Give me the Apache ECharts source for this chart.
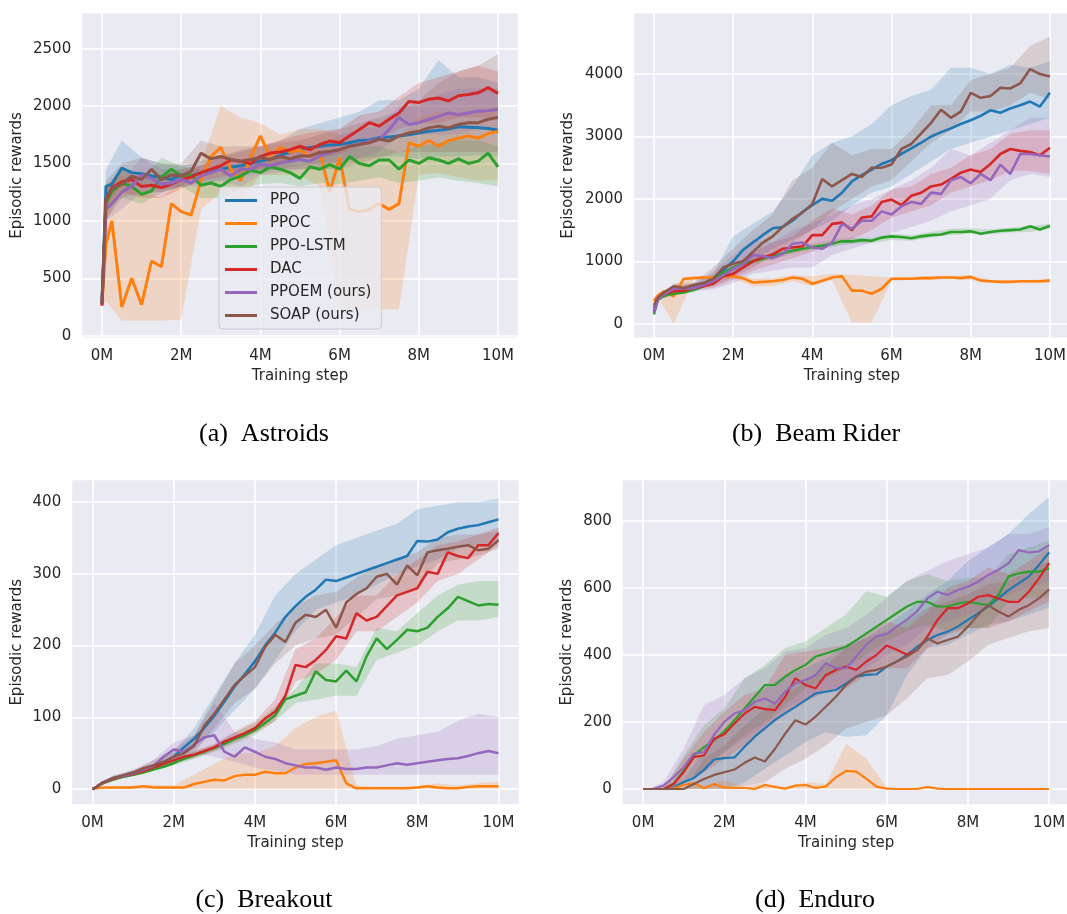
<!DOCTYPE html>
<html>
<head>
<meta charset="utf-8">
<title>Episodic rewards</title>
<script src="https://cdn.jsdelivr.net/npm/echarts@6.0.0/dist/echarts.min.js"></script>
<style>
  html, body { margin: 0; padding: 0; background: #fff; }
  #chart { width: 1067px; height: 914px; }
</style>
</head>
<body>
<div id="chart"></div>
<script>
// training steps (millions) for the mean curves and for the shaded bands
const steps = [0, 0.1, 0.25, 0.5, 0.75, 1, 1.25, 1.5, 1.75, 2, 2.25, 2.5, 2.75, 3, 3.25, 3.5, 3.75, 4, 4.25, 4.5, 4.75, 5,
  5.25, 5.5, 5.75, 6, 6.25, 6.5, 6.75, 7, 7.25, 7.5, 7.75, 8, 8.25, 8.5, 8.75, 9, 9.25, 9.5, 9.75, 10];
const bandSteps = [0, 0.1, 0.5, 1, 1.5, 2, 2.5, 3, 3.5, 4, 4.5, 5, 5.5, 6, 6.5, 7, 7.5, 8, 8.5, 9, 9.5, 10];
const xTicks = [0, 2, 4, 6, 8, 10];

const methods = ['PPO', 'PPOC', 'PPO-LSTM', 'DAC', 'PPOEM (ours)', 'SOAP (ours)'];

// (a) Astroids
const astTicks = [0, 500, 1000, 1500, 2000, 2500];
const astPPO = [280, 1300, 1320, 1460, 1420, 1410, 1390, 1380, 1360, 1400, 1390, 1420, 1440, 1450, 1470, 1480, 1500, 1520, 1540, 1570, 1600, 1625, 1640, 1650, 1660, 1665, 1680, 1700, 1705, 1725, 1730, 1740, 1750, 1765, 1780, 1790, 1800, 1820, 1815, 1810, 1805, 1790];
const astPPOC = [280, 800, 1000, 250, 500, 270, 650, 600, 1150, 1080, 1050, 1350, 1560, 1640, 1450, 1350, 1550, 1740, 1560, 1640, 1600, 1620, 1560, 1600, 1250, 1550, 1100, 1080, 1100, 1150, 1100, 1150, 1680, 1650, 1700, 1650, 1700, 1720, 1740, 1720, 1760, 1780];
const astLSTM = [280, 1150, 1260, 1330, 1300, 1230, 1260, 1380, 1450, 1390, 1400, 1310, 1330, 1300, 1360, 1390, 1440, 1420, 1470, 1450, 1420, 1370, 1470, 1450, 1490, 1450, 1560, 1500, 1480, 1530, 1530, 1450, 1530, 1500, 1550, 1530, 1500, 1540, 1500, 1520, 1590, 1470];
const astDAC = [260, 1180, 1290, 1340, 1360, 1300, 1310, 1290, 1320, 1360, 1380, 1420, 1450, 1480, 1530, 1520, 1500, 1560, 1590, 1600, 1620, 1650, 1620, 1665, 1695, 1680, 1740, 1795, 1855, 1825, 1885, 1940, 2040, 2030, 2060, 2070, 2045, 2090, 2100, 2115, 2160, 2110];
const astPPOEM = [300, 1100, 1150, 1250, 1300, 1400, 1370, 1320, 1330, 1360, 1330, 1390, 1420, 1450, 1390, 1450, 1450, 1490, 1480, 1505, 1520, 1535, 1520, 1565, 1595, 1620, 1650, 1665, 1695, 1710, 1795, 1900, 1840, 1855, 1885, 1910, 1940, 1925, 1940, 1955, 1960, 1970];
const astSOAP = [280, 1200, 1280, 1320, 1390, 1360, 1450, 1360, 1400, 1390, 1430, 1590, 1540, 1560, 1535, 1520, 1535, 1550, 1535, 1560, 1540, 1565, 1565, 1595, 1605, 1620, 1650, 1665, 1680, 1710, 1695, 1740, 1765, 1780, 1810, 1825, 1810, 1840, 1855, 1855, 1885, 1900];
const astPPOLo = [250, 1150, 1300, 1300, 1280, 1300, 1330, 1350, 1380, 1420, 1450, 1480, 1500, 1520, 1540, 1560, 1560, 1540, 1560, 1560, 1570, 1560];
const astPPOHi = [310, 1450, 1700, 1550, 1500, 1480, 1520, 1560, 1620, 1650, 1700, 1800, 1850, 1900, 1950, 2050, 2050, 2150, 2400, 2250, 2250, 2200];
const astPPOCLo = [250, 300, 130, 130, 130, 140, 1100, 1250, 1150, 1400, 1400, 1400, 1300, 240, 230, 230, 230, 1400, 1420, 1380, 1350, 1360];
const astPPOCHi = [310, 1300, 1400, 1250, 1200, 1350, 1500, 2000, 1900, 1850, 1750, 1800, 1800, 1750, 1700, 1700, 1750, 1900, 1950, 1950, 1950, 2000];
const astLSTMLo = [250, 1000, 1200, 1150, 1250, 1300, 1200, 1200, 1280, 1320, 1330, 1300, 1330, 1320, 1350, 1380, 1330, 1350, 1380, 1350, 1330, 1300];
const astLSTMHi = [310, 1300, 1450, 1350, 1550, 1480, 1450, 1450, 1500, 1520, 1550, 1500, 1580, 1600, 1650, 1650, 1600, 1650, 1680, 1700, 1700, 1650];
const astDACLo = [230, 1000, 1250, 1200, 1200, 1280, 1350, 1380, 1400, 1450, 1480, 1550, 1550, 1580, 1650, 1700, 1800, 1850, 1850, 1900, 1900, 1900];
const astDACHi = [290, 1300, 1450, 1400, 1400, 1450, 1480, 1560, 1600, 1650, 1700, 1750, 1780, 1800, 1920, 1950, 2080, 2200, 2250, 2300, 2350, 2300];
const astPPOEMLo = [270, 1000, 1100, 1250, 1250, 1300, 1300, 1350, 1300, 1400, 1420, 1450, 1480, 1500, 1550, 1600, 1750, 1750, 1750, 1750, 1800, 1800];
const astPPOEMHi = [330, 1250, 1350, 1550, 1450, 1450, 1480, 1550, 1500, 1580, 1600, 1620, 1650, 1750, 1800, 1820, 2000, 2000, 2100, 2150, 2150, 2150];
const astSOAPLo = [250, 1100, 1200, 1250, 1250, 1300, 1450, 1450, 1400, 1450, 1450, 1450, 1450, 1450, 1500, 1550, 1600, 1600, 1600, 1600, 1600, 1600];
const astSOAPHi = [310, 1350, 1500, 1550, 1500, 1500, 1700, 1650, 1650, 1650, 1680, 1700, 1750, 1800, 1850, 1900, 1950, 2050, 2200, 2300, 2350, 2450];

// (b) Beam Rider
const beamTicks = [0, 1000, 2000, 3000, 4000];
const beamPPO = [250, 400, 480, 530, 560, 600, 640, 730, 860, 1000, 1180, 1300, 1420, 1530, 1550, 1650, 1790, 1900, 2000, 1970, 2100, 2280, 2380, 2470, 2560, 2620, 2720, 2810, 2900, 3000, 3070, 3130, 3200, 3260, 3330, 3420, 3380, 3450, 3500, 3560, 3480, 3700];
const beamPPOC = [370, 450, 520, 440, 720, 730, 740, 740, 760, 760, 730, 660, 670, 680, 700, 740, 720, 640, 690, 740, 760, 530, 530, 480, 560, 720, 720, 720, 730, 730, 740, 740, 730, 750, 690, 680, 670, 670, 680, 680, 680, 690];
const beamLSTM = [150, 380, 450, 480, 500, 540, 600, 700, 820, 900, 960, 1000, 1040, 1080, 1130, 1170, 1200, 1230, 1250, 1280, 1320, 1320, 1340, 1330, 1380, 1400, 1390, 1370, 1400, 1420, 1430, 1470, 1470, 1480, 1440, 1470, 1490, 1500, 1510, 1560, 1510, 1570];
const beamDAC = [200, 390, 470, 520, 530, 570, 600, 640, 760, 800, 900, 1000, 1060, 1110, 1200, 1220, 1240, 1420, 1420, 1600, 1620, 1500, 1700, 1720, 1950, 1990, 1900, 2050, 2100, 2200, 2230, 2320, 2420, 2470, 2430, 2560, 2720, 2800, 2770, 2750, 2700, 2820];
const beamPPOEM = [180, 380, 470, 560, 560, 570, 620, 680, 780, 880, 950, 1100, 1080, 1050, 1120, 1280, 1300, 1220, 1200, 1300, 1600, 1520, 1650, 1650, 1800, 1750, 1880, 1950, 1920, 2100, 2080, 2300, 2350, 2250, 2400, 2300, 2550, 2400, 2720, 2720, 2700, 2680];
const beamSOAP = [300, 420, 500, 600, 570, 620, 650, 720, 900, 960, 1000, 1150, 1300, 1400, 1550, 1680, 1780, 1920, 2320, 2200, 2300, 2400, 2350, 2500, 2500, 2550, 2800, 2880, 3050, 3220, 3430, 3300, 3400, 3700, 3620, 3650, 3780, 3770, 3850, 4080, 4000, 3960];
const beamPPOLo = [240, 380, 480, 550, 650, 800, 1000, 1200, 1350, 1500, 1650, 1900, 2100, 2200, 2400, 2600, 2800, 2900, 3000, 3100, 3200, 3300];
const beamPPOHi = [260, 420, 580, 650, 800, 1400, 1600, 1800, 2200, 2700, 2900, 3000, 3200, 3500, 3650, 3750, 4100, 4100, 4000, 4150, 4100, 4200];
const beamPPOCLo = [350, 420, 0, 700, 700, 720, 600, 600, 680, 600, 700, 20, 20, 690, 700, 700, 720, 700, 650, 650, 650, 660];
const beamPPOCHi = [390, 480, 620, 760, 770, 800, 720, 730, 780, 760, 800, 780, 760, 740, 750, 770, 770, 780, 700, 700, 700, 720];
const beamLSTMLo = [140, 370, 460, 510, 650, 850, 950, 1030, 1120, 1180, 1230, 1280, 1290, 1340, 1330, 1380, 1420, 1440, 1430, 1460, 1470, 1520];
const beamLSTMHi = [160, 400, 520, 580, 760, 980, 1050, 1130, 1220, 1280, 1340, 1380, 1370, 1440, 1420, 1470, 1520, 1530, 1510, 1540, 1560, 1600];
const beamDACLo = [190, 370, 480, 530, 580, 700, 850, 950, 1050, 1150, 1300, 1350, 1500, 1700, 1800, 1900, 2100, 2200, 2300, 2450, 2450, 2400];
const beamDACHi = [210, 410, 560, 620, 720, 900, 1150, 1300, 1400, 1650, 1850, 1750, 1900, 2150, 2200, 2400, 2500, 2700, 2800, 3050, 3100, 3100];
const beamPPOEMLo = [170, 370, 500, 520, 550, 650, 800, 850, 900, 900, 1100, 1200, 1300, 1450, 1550, 1650, 1800, 1900, 2000, 2300, 2400, 2350];
const beamPPOEMHi = [190, 400, 620, 620, 850, 1100, 1350, 1300, 1500, 1600, 1750, 1900, 2000, 2150, 2300, 2500, 2800, 2700, 2900, 3100, 3300, 3300];
const beamSOAPLo = [290, 410, 570, 580, 600, 750, 900, 1100, 1300, 1500, 1800, 2000, 2200, 2300, 2600, 2900, 3100, 3400, 3400, 3500, 3700, 3600];
const beamSOAPHi = [310, 430, 640, 660, 900, 1200, 1500, 1750, 2300, 2500, 2900, 2700, 2800, 2800, 3100, 3500, 3500, 3900, 4000, 4100, 4450, 4600];

// (c) Breakout
const brkTicks = [0, 100, 200, 300, 400];
const brkPPO = [0, 3, 9, 15, 18, 22, 27, 31, 37, 45, 58, 70, 85, 102, 122, 143, 160, 178, 200, 218, 240, 255, 268, 278, 292, 290, 295, 300, 305, 310, 315, 320, 325, 346, 345, 348, 358, 363, 366, 368, 372, 376];
const brkPPOC = [0, 1, 2, 2, 2, 2, 4, 2, 2, 2, 2, 7, 10, 13, 12, 18, 20, 20, 24, 22, 22, 30, 35, 36, 38, 40, 8, 1, 1, 1, 1, 1, 1, 2, 4, 2, 1, 1, 3, 4, 4, 4];
const brkLSTM = [0, 3, 8, 13, 17, 20, 23, 27, 31, 36, 42, 47, 52, 57, 63, 70, 75, 82, 92, 103, 125, 130, 135, 164, 152, 150, 165, 150, 185, 210, 195, 208, 222, 220, 225, 240, 252, 268, 262, 256, 258, 257];
const brkDAC = [0, 3, 9, 14, 18, 21, 25, 30, 35, 40, 45, 48, 53, 58, 66, 72, 78, 85, 98, 108, 130, 173, 170, 180, 194, 213, 210, 245, 235, 240, 255, 270, 275, 280, 303, 300, 330, 325, 322, 340, 340, 357];
const brkPPOEM = [0, 3, 9, 15, 18, 22, 27, 32, 45, 55, 52, 62, 72, 75, 52, 45, 58, 52, 45, 42, 36, 33, 30, 30, 27, 30, 28, 28, 30, 30, 33, 36, 34, 36, 38, 40, 42, 43, 46, 50, 53, 50];
const brkSOAP = [0, 3, 9, 15, 19, 23, 29, 33, 38, 45, 50, 60, 88, 105, 125, 145, 158, 170, 198, 215, 205, 232, 243, 240, 250, 225, 260, 272, 280, 296, 300, 285, 312, 298, 330, 333, 335, 338, 340, 333, 335, 347];
const brkPPOLo = [0, 2, 12, 18, 26, 38, 55, 80, 110, 140, 180, 220, 250, 260, 270, 285, 300, 310, 320, 335, 340, 345];
const brkPPOHi = [0, 4, 18, 25, 35, 52, 85, 130, 175, 215, 270, 300, 320, 340, 350, 360, 370, 390, 395, 400, 400, 405];
const brkPPOCLo = [0, 0, 0, 0, 0, 0, 0, 0, 0, 0, 0, 0, 0, 0, 0, 0, 0, 0, 0, 0, 0, 0];
const brkPPOCHi = [0, 2, 4, 5, 6, 5, 20, 35, 50, 50, 60, 85, 100, 110, 5, 3, 3, 4, 8, 5, 8, 10];
const brkLSTMLo = [0, 2, 12, 18, 25, 33, 42, 52, 63, 75, 95, 120, 125, 130, 130, 180, 190, 200, 220, 235, 235, 240];
const brkLSTMHi = [0, 4, 15, 23, 30, 40, 52, 62, 78, 92, 115, 140, 175, 175, 170, 225, 220, 245, 270, 285, 290, 290];
const brkDACLo = [0, 2, 12, 18, 26, 36, 43, 53, 65, 78, 95, 150, 160, 180, 220, 220, 240, 260, 290, 300, 320, 340];
const brkDACHi = [0, 4, 16, 24, 34, 44, 53, 63, 80, 95, 125, 195, 210, 240, 270, 270, 300, 320, 340, 345, 355, 365];
const brkPPOEMLo = [0, 2, 12, 19, 28, 40, 50, 45, 38, 30, 25, 20, 20, 20, 20, 20, 20, 20, 20, 20, 20, 20];
const brkPPOEMHi = [0, 4, 18, 26, 40, 65, 75, 120, 80, 70, 65, 55, 55, 55, 55, 60, 70, 75, 80, 95, 105, 100];
const brkSOAPLo = [0, 2, 12, 19, 28, 38, 50, 85, 120, 140, 175, 200, 210, 215, 240, 265, 270, 280, 315, 320, 325, 335];
const brkSOAPHi = [0, 4, 18, 27, 40, 55, 75, 125, 175, 200, 230, 255, 270, 275, 295, 310, 320, 330, 350, 355, 355, 360];

// (d) Enduro
const endTicks = [0, 200, 400, 600, 800];
const endPPO = [0, 0, 0, 0, 5, 20, 33, 57, 88, 92, 94, 126, 156, 181, 206, 226, 245, 265, 285, 290, 295, 315, 335, 340, 342, 365, 380, 400, 424, 444, 459, 469, 484, 504, 524, 544, 568, 593, 613, 633, 668, 705];
const endPPOC = [0, 0, 0, 0, 2, 12, 18, 2, 15, 4, 3, 3, 0, 12, 6, 1, 10, 12, 3, 8, 35, 54, 52, 30, 7, 1, 0, 0, 0, 6, 1, 0, 0, 0, 0, 0, 0, 0, 0, 0, 0, 0];
const endLSTM = [0, 0, 0, 0, 15, 55, 100, 125, 145, 172, 205, 240, 275, 310, 310, 335, 355, 370, 395, 404, 414, 424, 444, 464, 484, 504, 524, 544, 558, 558, 544, 544, 553, 558, 553, 548, 578, 633, 643, 648, 648, 658];
const endDAC = [0, 0, 0, 0, 15, 50, 95, 100, 150, 163, 195, 225, 245, 238, 235, 275, 330, 310, 300, 340, 355, 365, 355, 380, 400, 428, 415, 400, 414, 454, 504, 539, 539, 553, 573, 578, 568, 558, 558, 588, 628, 673];
const endPPOEM = [0, 0, 0, 10, 35, 65, 105, 110, 162, 200, 225, 235, 260, 270, 255, 290, 315, 325, 340, 375, 360, 360, 395, 430, 455, 462, 485, 505, 530, 568, 588, 578, 593, 603, 618, 638, 653, 673, 712, 705, 708, 727];
const endSOAP = [0, 0, 0, 0, 0, 0, 15, 30, 42, 50, 58, 78, 94, 82, 120, 165, 205, 192, 216, 245, 275, 310, 335, 350, 355, 365, 380, 395, 414, 449, 434, 444, 454, 484, 519, 548, 529, 514, 534, 548, 568, 595];
const endPPOLo = [0, 0, 0, 0, 0, 0, 20, 60, 100, 140, 170, 155, 160, 220, 340, 420, 430, 460, 490, 500, 520, 540];
const endPPOHi = [0, 0, 0, 30, 110, 170, 240, 300, 340, 360, 390, 430, 450, 490, 530, 580, 620, 680, 720, 760, 820, 870];
const endPPOCLo = [0, 0, 0, 0, 0, 0, 0, 0, 0, 0, 0, 0, 0, 0, 0, 0, 0, 0, 0, 0, 0, 0];
const endPPOCHi = [0, 0, 0, 25, 10, 25, 8, 18, 5, 20, 15, 135, 90, 5, 0, 10, 0, 0, 0, 0, 0, 0];
const endLSTMLo = [0, 0, 0, 20, 60, 110, 160, 200, 250, 300, 330, 360, 400, 440, 470, 490, 470, 480, 480, 560, 570, 570];
const endLSTMHi = [0, 0, 0, 100, 190, 240, 330, 370, 420, 440, 480, 520, 590, 573, 620, 640, 620, 630, 630, 700, 720, 740];
const endDACLo = [0, 0, 0, 20, 50, 90, 130, 180, 220, 260, 290, 300, 340, 360, 360, 420, 460, 480, 480, 500, 530, 560];
const endDACHi = [0, 0, 0, 90, 170, 230, 280, 300, 400, 410, 420, 430, 460, 500, 480, 530, 600, 620, 660, 640, 680, 720];
const endPPOEMLo = [0, 0, 0, 20, 60, 110, 150, 190, 240, 270, 290, 310, 360, 400, 430, 480, 500, 520, 540, 580, 600, 620];
const endPPOEMHi = [0, 0, 20, 120, 250, 280, 330, 360, 410, 420, 460, 480, 520, 570, 620, 650, 680, 700, 720, 760, 760, 780];
const endSOAPLo = [0, 0, 0, 0, 0, 0, 10, 20, 60, 90, 130, 180, 200, 220, 270, 330, 340, 380, 430, 450, 470, 480];
const endSOAPHi = [0, 0, 0, 0, 90, 130, 190, 240, 280, 320, 370, 420, 450, 470, 500, 540, 560, 580, 610, 620, 650, 680];

// ---- layout / style ----
const palette = ['#1f77b4', '#ff7f0e', '#2ca02c', '#d62728', '#9467bd', '#8c564b'];
const bandFill = ['rgba(31,119,180,0.2)', 'rgba(255,127,14,0.2)', 'rgba(44,160,44,0.2)',
  'rgba(214,39,40,0.2)', 'rgba(148,103,189,0.2)', 'rgba(140,86,75,0.2)'];
const textColor = '#262626';
const sans = 'DejaVu Sans';

const panels = [
  {
    mean: [astPPO, astPPOC, astLSTM, astDAC, astPPOEM, astSOAP],
    lo: [astPPOLo, astPPOCLo, astLSTMLo, astDACLo, astPPOEMLo, astSOAPLo],
    hi: [astPPOHi, astPPOCHi, astLSTMHi, astDACHi, astPPOEMHi, astSOAPHi],
    yTicks: astTicks, yMin: -16, yMax: 2806,
    box: {left: 82.2, top: 13.5, width: 435.6, height: 324},
    nameGap: 58, lineWidth: 3,
    caption: '(a)  Astroids', capX: 264, capY: 434
  },
  {
    mean: [beamPPO, beamPPOC, beamLSTM, beamDAC, beamPPOEM, beamSOAP],
    lo: [beamPPOLo, beamPPOCLo, beamLSTMLo, beamDACLo, beamPPOEMLo, beamSOAPLo],
    hi: [beamPPOHi, beamPPOCHi, beamLSTMHi, beamDACHi, beamPPOEMHi, beamSOAPHi],
    yTicks: beamTicks, yMin: -221, yMax: 4971,
    box: {left: 634.1, top: 13.5, width: 435.6, height: 324},
    nameGap: 58, lineWidth: 2.6,
    caption: '(b)  Beam Rider', capX: 816, capY: 434
  },
  {
    mean: [brkPPO, brkPPOC, brkLSTM, brkDAC, brkPPOEM, brkSOAP],
    lo: [brkPPOLo, brkPPOCLo, brkLSTMLo, brkDACLo, brkPPOEMLo, brkSOAPLo],
    hi: [brkPPOHi, brkPPOCHi, brkLSTMHi, brkDACHi, brkPPOEMHi, brkSOAPHi],
    yTicks: brkTicks, yMin: -21.3, yMax: 430.5,
    box: {left: 72.2, top: 480.3, width: 446.6, height: 324},
    nameGap: 48, lineWidth: 2.5,
    caption: '(c)  Breakout', capX: 264, capY: 900
  },
  {
    mean: [endPPO, endPPOC, endLSTM, endDAC, endPPOEM, endSOAP],
    lo: [endPPOLo, endPPOCLo, endLSTMLo, endDACLo, endPPOEMLo, endSOAPLo],
    hi: [endPPOHi, endPPOCHi, endLSTMHi, endDACHi, endPPOEMHi, endSOAPHi],
    yTicks: endTicks, yMin: -45.6, yMax: 920.2,
    box: {left: 622.8, top: 480.3, width: 446.6, height: 324},
    nameGap: 48, lineWidth: 2.2,
    caption: '(d)  Enduro', capX: 815, capY: 900
  }
];

// one polygon per band, built from lo/hi through the axis scales
const renderBand = fill => (params, api) => {
  if (params.dataIndex !== 0) return null;
  const n = params.dataInsideLength;
  const upper = [], lower = [];
  for (let j = 0; j < n; j++) {
    upper.push(api.coord([api.value(0, j), api.value(2, j)]));
    lower.push(api.coord([api.value(0, j), api.value(1, j)]));
  }
  return {
    type: 'polygon',
    shape: {points: upper.concat(lower.reverse())},
    style: {fill: fill, stroke: null}
  };
};

const labelStyle = {color: textColor, fontSize: 15, fontFamily: sans};
const grids = [], xAxes = [], yAxes = [], bands = [], lines = [], graphics = [];

panels.forEach((p, gi) => {
  grids.push(Object.assign({
    show: true, backgroundColor: '#eaeaf2', borderWidth: 0,
    containLabel: false, outerBoundsMode: 'none'
  }, p.box));

  xAxes.push({
    type: 'value', gridIndex: gi, min: -0.5, max: 10.5,
    name: 'Training step', nameLocation: 'middle', nameGap: 31,
    nameTextStyle: labelStyle,
    axisLine: {show: false},
    axisTick: {show: false, customValues: xTicks},
    axisLabel: Object.assign({customValues: xTicks, margin: 11, formatter: v => v + 'M'}, labelStyle),
    splitLine: {show: true, lineStyle: {color: '#ffffff', width: 1.6}}
  });

  yAxes.push({
    type: 'value', gridIndex: gi, min: p.yMin, max: p.yMax,
    name: 'Episodic rewards', nameLocation: 'middle', nameRotate: 90, nameGap: p.nameGap,
    nameTextStyle: labelStyle,
    axisLine: {show: false},
    axisTick: {show: false, customValues: p.yTicks},
    axisLabel: Object.assign({customValues: p.yTicks, margin: 11, formatter: v => String(v)}, labelStyle),
    splitLine: {show: true, lineStyle: {color: '#ffffff', width: 1.6}}
  });

  p.mean.forEach((vals, k) => {
    bands.push({
      type: 'custom', name: methods[k] + ' band', xAxisIndex: gi, yAxisIndex: gi,
      silent: true, z: 2, clip: true,
      dimensions: ['x', 'lo', 'hi'],
      encode: {x: 0, y: [1, 2]},
      data: bandSteps.map((x, i) => [x, p.lo[k][i], p.hi[k][i]]),
      renderItem: renderBand(bandFill[k])
    });
    lines.push({
      type: 'line', name: methods[k], xAxisIndex: gi, yAxisIndex: gi,
      data: steps.map((x, i) => [x, vals[i]]),
      symbol: 'none', silent: true, z: 3, clip: true,
      lineStyle: {color: palette[k], width: p.lineWidth},
      itemStyle: {color: palette[k]}
    });
  });

  graphics.push({
    type: 'text', x: p.capX, y: p.capY,
    style: {
      text: p.caption, fill: '#000', fontSize: 26, fontFamily: 'Liberation Serif',
      align: 'center', verticalAlign: 'middle'
    }
  });
});

const chart = echarts.init(document.getElementById('chart'), null, {renderer: 'canvas'});
chart.setOption({
  animation: false,
  backgroundColor: '#ffffff',
  grid: grids,
  xAxis: xAxes,
  yAxis: yAxes,
  legend: {
    data: methods,
    orient: 'vertical',
    left: 219, top: 187,
    padding: [4.5, 10, 4.5, 6],
    itemGap: 5, itemWidth: 32, itemHeight: 3,
    icon: 'rect',
    backgroundColor: 'rgba(234,234,242,0.8)',
    borderColor: '#cccccc', borderWidth: 1, borderRadius: 4,
    selectedMode: false,
    textStyle: {color: textColor, fontSize: 15, fontFamily: sans, lineHeight: 18, padding: [0, 0, 0, 8]}
  },
  graphic: graphics,
  series: bands.concat(lines)
});
</script>
</body>
</html>
